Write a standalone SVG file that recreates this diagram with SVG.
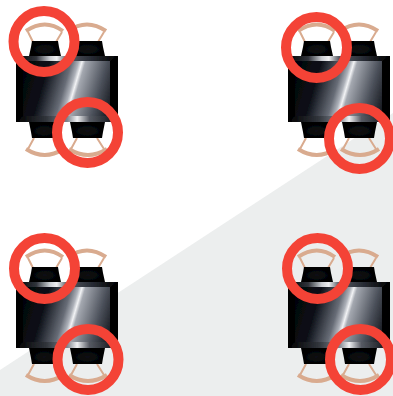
<svg xmlns="http://www.w3.org/2000/svg" width="393" height="396" viewBox="0 0 393 396">
<style>
.arc{fill:none;stroke:#d9ab8f;stroke-width:4;stroke-linecap:butt}
.leg{fill:none;stroke:#d9ab8f;stroke-width:2}
.ring{fill:none;stroke:#f44336;stroke-width:10}
</style>
<defs>
<filter id="soft" x="-5%" y="-5%" width="110%" height="110%"><feGaussianBlur stdDeviation="0.45"/></filter>
<radialGradient id="seat" cx="0.5" cy="0.55" r="0.55"><stop offset="0" stop-color="#0e1014"/><stop offset="0.7" stop-color="#030405"/><stop offset="1" stop-color="#000"/></radialGradient>
<linearGradient id="panel" gradientUnits="userSpaceOnUse" x1="26" y1="74" x2="118" y2="101">
<stop offset="0" stop-color="#04060b"/><stop offset="0.2" stop-color="#0c1018"/><stop offset="0.42" stop-color="#676c76"/><stop offset="0.49" stop-color="#adb1b9"/><stop offset="0.525" stop-color="#f2f3f5"/><stop offset="0.56" stop-color="#a4a8b0"/><stop offset="0.78" stop-color="#4c515b"/><stop offset="1" stop-color="#05070c"/>
</linearGradient>
<linearGradient id="top" gradientUnits="userSpaceOnUse" x1="16" y1="0" x2="118" y2="0">
<stop offset="0" stop-color="#000"/><stop offset="0.2" stop-color="#30343b"/><stop offset="0.33" stop-color="#c9ccd1"/><stop offset="0.4" stop-color="#eff0f2"/><stop offset="0.5" stop-color="#565a63"/><stop offset="0.75" stop-color="#262a32"/><stop offset="1" stop-color="#000"/>
</linearGradient>
<linearGradient id="bot" gradientUnits="userSpaceOnUse" x1="16" y1="0" x2="118" y2="0">
<stop offset="0" stop-color="#000"/><stop offset="0.3" stop-color="#30343b"/><stop offset="0.5" stop-color="#7d828b"/><stop offset="0.6" stop-color="#eff0f2"/><stop offset="0.72" stop-color="#565a63"/><stop offset="1" stop-color="#0a0c10"/>
</linearGradient>
<g id="table" filter="url(#soft)">
<path class="arc" d="M26 31Q45 18 63 31"/>
<path class="leg" d="M28 32L33 42M62 32L56 42"/>
<path fill="url(#seat)" d="M32 41H58L59 47L61 56H29L31 47Z"/>
<path class="arc" d="M68 31Q87 18 106 31"/>
<path class="leg" d="M70 32L75 42M104 32L98 42"/>
<path fill="url(#seat)" d="M74 41H102L103 47L105 56H71L73 47Z"/>
<path class="arc" d="M26 149Q45 161 63 149"/>
<path class="leg" d="M34 138L28 149M56 138L62 149"/>
<path fill="url(#seat)" d="M29 122H60L59 132L58 138H32L31 132Z"/>
<path class="arc" d="M69 149Q88 161 107 149"/>
<path class="leg" d="M77 138L71 149M97 138L104 149"/>
<path fill="url(#seat)" d="M70 122H105L103 132L102 138H73L72 132Z"/>
<rect x="16" y="56" width="102" height="66" fill="#000"/>
<rect x="23" y="61" width="87" height="55" fill="url(#panel)"/>
<path fill="url(#top)" d="M16 56H118L110 61H23Z"/>
<path fill="url(#bot)" d="M23 116H110L118 122H16Z"/>
</g>
</defs>
<rect width="393" height="396" fill="#fff"/>
<polygon id="floor" points="0,370 393,113 393,396 0,396" fill="#eceeee"/>
<g id="set1"><use href="#table"/><circle class="ring" cx="44" cy="41.5" r="30.5"/><circle class="ring" cx="87.5" cy="132.5" r="30.5"/></g>
<g id="set2"><use href="#table" x="272"/><circle class="ring" cx="316.5" cy="47.5" r="30.5"/><circle class="ring" cx="359.5" cy="138.5" r="30.5"/></g>
<g id="set3"><use href="#table" y="226"/><circle class="ring" cx="44.5" cy="268.5" r="30.5"/><circle class="ring" cx="88" cy="359.5" r="30.5"/></g>
<g id="set4"><use href="#table" x="272" y="226"/><circle class="ring" cx="317.5" cy="268.5" r="30.5"/><circle class="ring" cx="360.5" cy="359.5" r="30.5"/></g>
<g id="connectors"/>
</svg>
